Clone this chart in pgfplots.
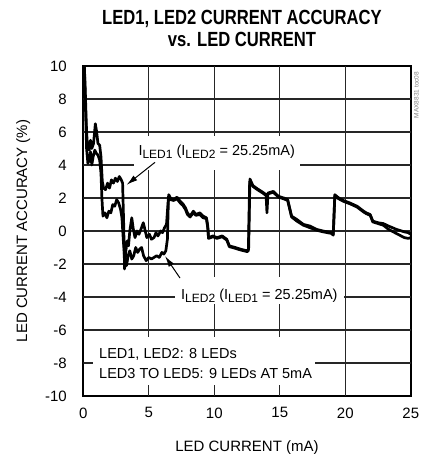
\documentclass[border=0pt]{standalone}
\usepackage{pgfplots}
\pgfplotsset{compat=1.18}
\usepackage{fontspec}
\usetikzlibrary{arrows.meta}
\setmainfont{Liberation Sans}
\newfontfamily\titlefont{Liberation Sans}[FakeStretch=0.81]
\newcommand{\sub}[1]{\raisebox{-0.4ex}{\fontsize{12}{12}\selectfont #1}}
\tikzset{gridline/.style={black!85, line width=1.2pt}}
\begin{document}
\begin{tikzpicture}[font=\fontsize{15}{18}\selectfont]
\useasboundingbox (-83.3pt,-58pt) rectangle (338.7pt,396pt);
\begin{axis}[
  at={(0pt,0pt)}, anchor=south west,
  scale only axis, width=327.5pt, height=330pt,
  xmin=0, xmax=25, ymin=-10, ymax=10,
  xtick={0,5,10,15,20,25}, ytick={-10,-8,-6,-4,-2,0,2,4,6,8,10},
  major tick length=0pt,
  axis line style={line width=2.4pt},
  /pgf/number format/assume math mode=true,
  yticklabel style={xshift=-13pt},
  xticklabel style={yshift=-8pt},
]
% grid
\draw[gridline] (axis cs:5,-10) -- (axis cs:5,10);
\draw[gridline] (axis cs:10,-10) -- (axis cs:10,10);
\draw[gridline] (axis cs:15,-10) -- (axis cs:15,10);
\draw[gridline] (axis cs:20,-10) -- (axis cs:20,10);
\draw[gridline] (axis cs:0,-8) -- (axis cs:25,-8);
\draw[gridline] (axis cs:0,-6) -- (axis cs:25,-6);
\draw[gridline] (axis cs:0,-4) -- (axis cs:25,-4);
\draw[gridline] (axis cs:0,-2) -- (axis cs:25,-2);
\draw[gridline] (axis cs:0,0) -- (axis cs:25,0);
\draw[gridline] (axis cs:0,2) -- (axis cs:25,2);
\draw[gridline] (axis cs:0,4) -- (axis cs:25,4);
\draw[gridline] (axis cs:0,6) -- (axis cs:25,6);
\draw[gridline] (axis cs:0,8) -- (axis cs:25,8);
\addplot[black, line width=2.7pt, line join=round] table {
0.08 10
0.15 8.5
0.25 6.0
0.32 5.2
0.45 4.9
0.55 5.5
0.65 5.0
0.78 5.3
0.92 6.5
1.02 6.0
1.12 5.3
1.25 5.2
1.35 4.5
1.45 3.0
1.55 2.6
1.7 2.5
1.85 2.9
2.0 2.6
2.15 3.1
2.3 2.9
2.45 3.2
2.6 3.0
2.75 3.3
2.9 3.1
3.0 2.9
3.08 0.5
3.15 -2.3
3.25 -1.2
3.35 -0.6
3.45 -0.9
3.55 0.0
3.7 0.8
3.82 0.1
3.95 -0.4
4.1 0.0
4.25 -0.2
4.4 0.1
4.58 0.5
4.7 0.1
4.85 -0.4
5.05 -0.2
5.2 -0.5
5.4 -0.4
5.55 -0.1
5.7 -0.3
5.9 0.0
6.05 -0.1
6.2 0.2
6.35 0.4
6.45 1.5
6.52 2.2
6.65 2.0
6.9 1.9
7.15 2.05
7.4 1.8
7.6 1.65
7.8 1.4
7.95 1.1
8.15 0.9
8.4 1.2
8.6 1.0
8.9 1.1
9.15 0.9
9.4 0.8
9.5 0.3
9.56 -0.4
9.9 -0.3
10.2 -0.4
10.6 -0.3
10.95 -0.5
11.15 -0.9
11.6 -1.0
12.0 -1.1
12.5 -1.2
12.62 -1.1
12.72 3.15
12.95 2.75
13.3 2.55
13.7 2.35
13.95 2.2
14.02 1.1
14.1 2.3
14.5 2.4
14.9 2.1
15.3 2.0
15.6 1.9
15.9 0.9
16.3 0.7
16.8 0.4
17.3 0.3
17.8 0.1
18.3 0.0
18.95 -0.1
19.08 -0.2
19.2 2.2
19.5 2.0
19.85 1.85
20.35 1.7
20.9 1.5
21.4 1.2
21.6 1.1
21.9 1.0
22.1 0.6
22.5 0.5
22.9 0.45
23.3 0.3
23.9 0.1
24.5 -0.05
24.8 -0.1
25 -0.2
};
\addplot[black, line width=2.7pt, line join=round] table {
0.08 10
0.15 8.0
0.25 5.0
0.35 4.1
0.45 4.3
0.55 4.8
0.65 4.0
0.75 4.5
0.88 4.9
1.0 4.7
1.12 4.6
1.25 4.3
1.35 3.5
1.42 2.0
1.5 0.9
1.65 1.1
1.8 0.8
1.95 1.2
2.1 1.1
2.25 1.6
2.4 1.5
2.55 1.9
2.7 1.7
2.85 1.3
2.95 0.8
3.05 -0.5
3.15 -1.6
3.3 -2.1
3.42 -1.5
3.55 -1.2
3.7 -1.7
3.85 -1.5
4.0 -1.0
4.15 -1.3
4.3 -1.1
4.45 -1.0
4.6 -1.5
4.8 -1.8
5.0 -1.6
5.2 -1.7
5.4 -1.6
5.6 -1.5
5.8 -1.6
6.0 -1.3
6.15 -1.4
6.3 -1.2
6.42 -0.5
6.5 2.0
6.65 1.9
6.9 1.85
7.15 1.95
7.4 1.7
7.6 1.55
7.8 1.3
7.95 1.0
8.15 0.85
8.4 1.1
8.6 0.95
8.9 1.0
9.15 0.8
9.4 0.75
9.5 0.2
9.56 -0.45
9.9 -0.35
10.2 -0.45
10.6 -0.35
10.95 -0.55
11.15 -0.95
11.6 -1.05
12.0 -1.15
12.5 -1.25
12.6 -1.2
12.7 3.0
12.95 2.7
13.3 2.5
13.7 2.3
13.95 2.15
14.1 2.25
14.5 2.35
14.9 2.05
15.3 1.95
15.6 1.85
15.9 0.85
16.3 0.6
16.8 0.35
17.3 0.2
17.8 0.05
18.3 -0.05
18.95 -0.15
19.08 -0.25
19.2 2.1
19.5 1.95
19.85 1.8
20.35 1.65
20.9 1.45
21.4 1.15
21.6 1.05
21.9 0.95
22.1 0.55
22.5 0.45
22.9 0.35
23.3 0.1
23.9 -0.15
24.5 -0.4
24.8 -0.45
25 -0.4
};
\node[anchor=base west, inner xsep=5pt, inner ysep=0pt, fill=white, text height=20pt, text depth=14pt, font=\fontsize{14.5}{17}\selectfont] at (axis cs:3.82,4.57) {I\sub{LED1} (I\sub{LED2} = 25.25mA)};
\node[anchor=base west, inner xsep=6pt, inner ysep=0pt, fill=white, text height=22pt, text depth=5pt, font=\fontsize{14.5}{17}\selectfont] at (axis cs:7.0,-4.15) {I\sub{LED2} (I\sub{LED1} = 25.25mA)};
\node[anchor=base west, inner sep=0pt, fill=white, text height=22pt, text depth=26pt, minimum width=222pt] at (axis cs:0.74,-7.74) {};
\node[anchor=base west, inner sep=0pt, font=\fontsize{14.5}{17}\selectfont] at (axis cs:1.2,-7.74) {LED1, LED2: 8 LEDs};
\node[anchor=base west, inner sep=0pt, font=\fontsize{14.5}{17}\selectfont] at (axis cs:1.2,-8.96) {LED3 TO LED5: 9 LEDs AT 5mA};
\draw[line width=1pt, -{Latex[length=11pt,width=6pt]}] (axis cs:5.47,4.16) -- (axis cs:3.31,2.80);
\draw[line width=1pt, -{Latex[length=11pt,width=6pt]}] (axis cs:7.38,-2.85) -- (axis cs:6.24,-1.52);
\end{axis}
\node[anchor=base] at (163.7pt,-55pt) {LED CURRENT (mA)};
\node[anchor=base, rotate=90] at (-56.3pt,165pt) {LED CURRENT ACCURACY (\%)};
\node[rotate=90, text=gray, font=\fontsize{6.5}{8}\selectfont, inner sep=0pt] at (333pt,301pt) {MAX8831 toc08};
\node[anchor=base, font=\titlefont\bfseries\fontsize{20.5}{22}\selectfont] at (158.7pt,371pt) {LED1, LED2 CURRENT ACCURACY};
\node[anchor=base, font=\titlefont\bfseries\fontsize{20.5}{22}\selectfont] at (158.7pt,349pt) {vs. LED CURRENT};
\end{tikzpicture}
\end{document}
